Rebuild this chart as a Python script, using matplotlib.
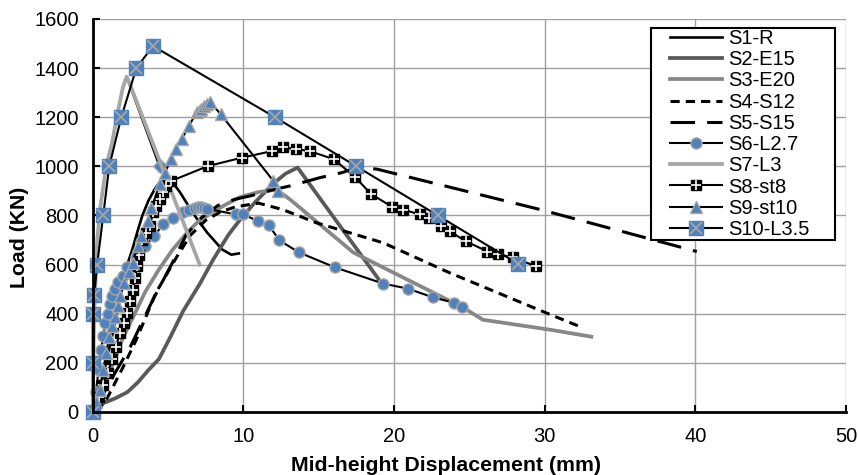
import matplotlib
matplotlib.use("Agg")
import matplotlib.pyplot as plt
from matplotlib.patches import Rectangle

plt.rcParams["font.family"] = ["Liberation Sans", "DejaVu Sans"]

# Load - displacement data
S1_x = [0, 0.3, 0.7, 1.0, 1.4, 1.7, 2.0, 2.3, 2.65, 3.0, 3.3, 3.7, 4.1, 4.5, 4.9, 5.3, 5.8, 6.7, 7.6, 8.6, 9.2, 9.7]
S1_y = [0, 50, 150, 230, 340, 430, 525, 600, 665, 740, 800, 860, 905, 940, 948, 935, 894, 805, 730, 661, 640, 645]
S1_top_x = [2.3, 3.4, 4.45, 5.0]
S1_top_y = [1360, 1175, 1000, 945]

S2_x = [0, 0.5, 1.5, 2.3, 3.0, 3.7, 4.4, 5.2, 6.0, 7.1, 8.0, 9.0, 9.8, 10.8, 12.0, 12.8, 13.6, 19.1]
S2_y = [0, 30, 55, 80, 120, 170, 215, 310, 410, 520, 620, 720, 784, 855, 930, 970, 995, 530]

S3_x = [0, 0.5, 1.0, 1.5, 2.0, 2.7, 3.5, 4.4, 5.3, 6.2, 7.0, 8.0, 9.0, 9.8, 11.0, 12.2, 13.1, 17.3, 24.6, 25.9, 30.3, 33.1]
S3_y = [0, 60, 140, 220, 300, 388, 490, 580, 660, 725, 775, 815, 850, 875, 895, 905, 865, 649, 424, 375, 335, 306]

S4_x = [0.3, 1.0, 2.0, 2.9, 4.2, 5.6, 6.5, 7.5, 8.5, 9.5, 11.0, 12.6, 14.85, 19.3, 23.7, 30.1, 32.5]
S4_y = [0, 60, 180, 294, 485, 633, 720, 780, 815, 835, 850, 824, 770, 688, 566, 403, 343]

S5_x = [0.2, 0.5, 1.5, 2.5, 4.0, 5.3, 6.2, 7.2, 8.3, 9.4, 10.5, 12.0, 13.1, 15.1, 16.6, 17.6, 18.9, 29.7, 40.1]
S5_y = [0, 50, 160, 265, 457, 608, 720, 790, 840, 865, 880, 905, 920, 954, 975, 998, 988, 824, 653]

S6_x = [0, 0.2, 0.4, 0.55, 0.7, 0.85, 1.0, 1.15, 1.3, 1.5, 1.7, 2.0, 2.3, 2.9, 3.45, 4.1, 4.65, 5.3, 6.0,
        6.4, 6.8, 7.0, 7.2, 7.4, 7.6, 9.5, 10.0, 11.0, 11.7, 12.4, 13.7, 16.1, 19.3, 20.9, 22.6, 24.0, 24.5]
S6_y = [0, 80, 170, 250, 310, 360, 400, 440, 470, 500, 530, 555, 590, 630, 674, 716, 763, 791, 812,
        824, 831, 835, 835, 831, 827, 804, 804, 776, 759, 698, 649, 588, 522, 502, 466, 444, 426]

S7_x = [0, 0.1, 0.3, 0.5, 0.9, 1.3, 1.7, 2.0, 2.25, 2.5, 7.1]
S7_y = [0, 400, 700, 830, 1000, 1100, 1230, 1320, 1365, 1330, 600]

S8_x = [0, 0.4, 0.7, 1.0, 1.3, 1.55, 1.8, 2.05, 2.25, 2.45, 2.65, 2.8, 2.95, 3.1, 3.3, 3.55, 3.8, 4.0, 4.2,
        4.45, 4.7, 4.9, 5.2, 7.65, 9.9, 11.9, 12.6, 13.5, 14.4, 16.0, 17.4, 18.5, 19.9, 20.6, 21.7, 22.3,
        23.1, 23.7, 24.8, 26.2, 26.9, 27.9, 29.4]
S8_y = [0, 60, 110, 160, 215, 265, 320, 360, 403, 450, 498, 545, 593, 640, 700, 730, 757, 812, 840,
        866, 895, 920, 940, 1001, 1035, 1062, 1077, 1070, 1062, 1029, 957, 886, 834, 824, 804, 790,
        757, 735, 694, 653, 641, 629, 593]

S9_x = [0, 0.2, 0.46, 0.7, 0.9, 1.1, 1.3, 1.46, 1.65, 1.8, 2.1, 2.4, 2.65, 3.0, 3.2, 3.65, 3.9, 4.45, 4.8,
        5.2, 5.5, 5.9, 6.4, 6.9, 7.1, 7.2, 7.4, 7.6, 7.8, 8.5, 12.0, 12.3]
S9_y = [0, 40, 90, 170, 240, 306, 350, 388, 430, 470, 526, 570, 608, 675, 716, 776, 830, 927, 974,
        1029, 1070, 1110, 1165, 1220, 1228, 1232, 1245, 1255, 1262, 1212, 940, 900]

S10_x = [0, 0, 0, 0.1, 0.3, 0.7, 1.1, 1.9, 2.9, 4.0, 12.1, 17.5, 22.9, 28.2]
S10_y = [0, 200, 400, 475, 600, 800, 1000, 1200, 1400, 1490, 1200, 1000, 800, 604]

labels = ["S1-R", "S2-E15", "S3-E20", "S4-S12", "S5-S15", "S6-L2.7", "S7-L3", "S8-st8", "S9-st10", "S10-L3.5"]

blue = "#4f81bd"
edge = "#a6a6a6"

fig = plt.figure(figsize=(8.58, 4.75), dpi=100)
ax = fig.add_axes([0.108, 0.133, 0.878, 0.827])

h1, = ax.plot(S1_x, S1_y, color="black", lw=1.9)
ax.plot(S1_top_x, S1_top_y, color="black", lw=1.9)
ax.plot(S1_top_x[2], S1_top_y[2], "D", color=blue, mec=edge, ms=7.5)
h2, = ax.plot(S2_x, S2_y, color="#595959", lw=2.7)
h3, = ax.plot(S3_x, S3_y, color="#878787", lw=2.7)
h4, = ax.plot(S4_x, S4_y, color="black", lw=2.2, dashes=(3, 2))
h5, = ax.plot(S5_x, S5_y, color="black", lw=2.2, dashes=(8, 4))
h6, = ax.plot(S6_x, S6_y, color="black", lw=1.5, marker="o", ms=8, mfc=blue, mec=edge, mew=1, clip_on=False)
h7, = ax.plot(S7_x, S7_y, color="#a6a6a6", lw=2.7)
h8a, = ax.plot(S8_x, S8_y, color="black", lw=1.5, marker="s", ms=7, mfc="black", mec="black", clip_on=False)
h8b, = ax.plot(S8_x, S8_y, ls="none", marker="+", ms=7, mec="white", mew=1.2, clip_on=False)
h9, = ax.plot(S9_x, S9_y, color="black", lw=1.5, marker="^", ms=9, mfc=blue, mec=edge, mew=1, clip_on=False)
h10a, = ax.plot(S10_x, S10_y, color="black", lw=1.5, marker="s", ms=10, mfc=blue, mec=blue, clip_on=False)
h10b, = ax.plot(S10_x, S10_y, ls="none", marker="x", ms=8.5, mec=edge, mew=1.3, clip_on=False)

ax.set_xlim(0, 50)
ax.set_ylim(0, 1600)
ax.set_xticks(range(0, 51, 10))
ax.set_yticks(range(0, 1601, 200))
ax.grid(True, color="#a0a0a0", lw=1)
ax.set_axisbelow(True)
for s in ["top", "right"]:
    ax.spines[s].set_visible(False)
for s in ["left", "bottom"]:
    ax.spines[s].set_linewidth(2)
ax.tick_params(direction="in", length=5, width=1.5, labelsize=14.5)
ax.tick_params(axis="y", pad=10)
ax.tick_params(axis="x", pad=11)
ax.set_xlabel("Mid-height Displacement (mm)", fontsize=15.3, fontweight="bold")
ax.set_ylabel("Load (KN)", fontsize=15.3, fontweight="bold")
ax.xaxis.set_label_coords(0.469, -0.113)
ax.yaxis.set_label_coords(-0.084, 0.443)

# legend box drawn by hand so its padding matches the original
fig.patches.append(Rectangle((651 / 858, 1 - 240 / 475), 184 / 858, 212 / 475, transform=fig.transFigure,
                             facecolor="white", edgecolor="black", lw=1.5, zorder=5))
handles = [h1, h2, h3, h4, h5, h6, h7, (h8a, h8b), h9, (h10a, h10b)]
leg = fig.legend(handles, labels, loc="upper left", bbox_to_anchor=(666 / 858, 1 - 25 / 475),
                 bbox_transform=fig.transFigure, borderaxespad=0, fontsize=14.5, labelspacing=0.11,
                 handlelength=2.6, handletextpad=0.3, borderpad=0.2, numpoints=1, frameon=False)
leg.set_zorder(6)

fig.savefig("out.png", dpi=100)
